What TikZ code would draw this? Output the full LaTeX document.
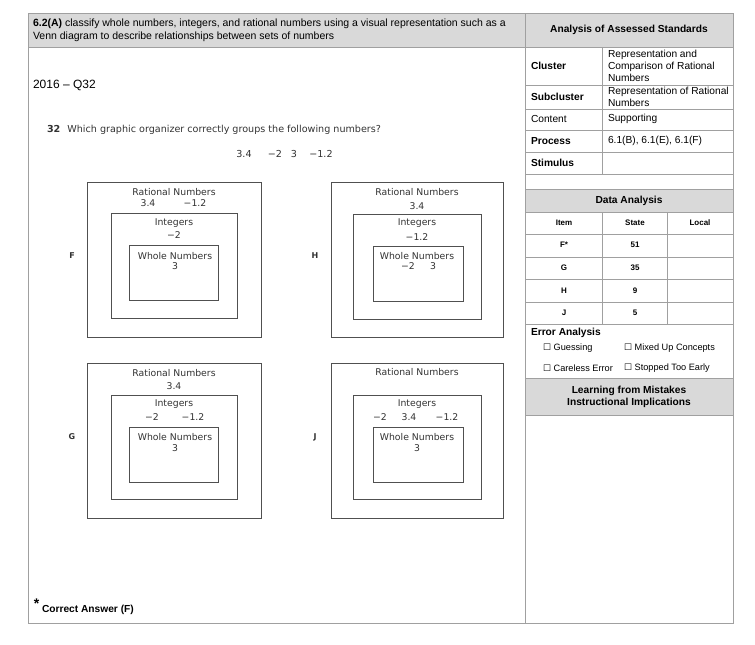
\documentclass[tikz,border=0pt]{standalone}
\usepackage{fontspec}
\setmainfont{Liberation Sans}
\newfontfamily\vd{DejaVu Sans}
\definecolor{hdr}{RGB}{217,217,217}
\definecolor{gridc}{RGB}{160,160,160}
\definecolor{vline}{RGB}{80,80,80}
\definecolor{vtext}{RGB}{50,50,50}
\begin{document}
\begin{tikzpicture}[x=1pt,y=-1pt,
 every node/.style={inner sep=0pt, outer sep=0pt},
 gl/.style={draw=gridc, line width=1pt},
 tt/.style={font=\fontsize{10.2}{12}\selectfont, align=left},
 tb/.style={font=\bfseries\fontsize{10.2}{12}\selectfont, align=center},
 sm/.style={font=\bfseries\fontsize{8}{10}\selectfont},
 ck/.style={font=\fontsize{9.2}{11}\selectfont},
 vb/.style={draw=vline, line width=0.9pt},
 vt/.style={font=\vd\fontsize{9.3}{11}\selectfont, text=vtext},
 qn/.style={font=\vd\fontsize{9.6}{11}\selectfont, text=vtext},
 lab/.style={font=\vd\bfseries\fontsize{8}{10}\selectfont, text=vtext}
]
\useasboundingbox (0,0) rectangle (755,645);
% ---------- frames
\fill[hdr] (28,13) rectangle (733,47);
\fill[hdr] (525,189) rectangle (733,212);
\fill[hdr] (525,378) rectangle (733,415);
\draw[gl] (28,13) rectangle (733,623);
\draw[gl] (525,13) -- (525,623);
\foreach \yy in {47,85,109,130,152,174,189,212,234,257,279,302,324,378,415}
  \draw[gl] (525,\yy) -- (733,\yy);
\draw[gl] (28,47) -- (525,47);
\draw[gl] (602,47) -- (602,174);
\draw[gl] (602,212) -- (602,324);
\draw[gl] (667,212) -- (667,324);
% ---------- left header
\node[font=\fontsize{10.5}{12.5}\selectfont, align=left, anchor=west] (std) at (33,30.5) {\textbf{6.2(A)} classify whole numbers, integers, and rational numbers using a visual representation such as a\\Venn diagram to describe relationships between sets of numbers};
\node[font=\fontsize{12}{14}\selectfont, anchor=west] (year) at (33,85) {2016 -- Q32};
\node[qn, anchor=west] (q) at (47,130) {\textbf{32}\hspace{7pt}Which graphic organizer correctly groups the following numbers?};
\node[qn] (n1) at (244,154) {3.4};
\node[qn] (n2) at (275,154) {−2};
\node[qn] (n3) at (294,154) {3};
\node[qn] (n4) at (321,154) {−1.2};
% ---------- F
\draw[vb] (87,182) rectangle (261,337);
\draw[vb] (111,213) rectangle (237,318);
\draw[vb] (129,245) rectangle (218,300);
\node[lab] (lF) at (72,256) {F};
\node[vt] (fR) at (174,192) {Rational Numbers};
\node[vt] (fR1) at (148,203) {3.4};
\node[vt] (fR2) at (195,203) {−1.2};
\node[vt] (fI) at (174,223) {Integers};
\node[vt] (fI1) at (174,235) {−2};
\node[vt] (fW) at (175,256) {Whole Numbers};
\node[vt] (fW1) at (175,266) {3};
% ---------- H
\draw[vb] (331,182) rectangle (503,337);
\draw[vb] (353,214) rectangle (481,319);
\draw[vb] (373,246) rectangle (463,301);
\node[lab] (lH) at (315,256) {H};
\node[vt] (hR) at (417,192) {Rational Numbers};
\node[vt] (hR1) at (417,206) {3.4};
\node[vt] (hI) at (417,223) {Integers};
\node[vt] (hI1) at (417,237) {−1.2};
\node[vt] (hW) at (417,256) {Whole Numbers};
\node[vt] (hW1) at (408,266) {−2};
\node[vt] (hW2) at (433,266) {3};
% ---------- G
\draw[vb] (87,363) rectangle (261,518);
\draw[vb] (111,395) rectangle (237,499);
\draw[vb] (129,427) rectangle (218,482);
\node[lab] (lG) at (72,437) {G};
\node[vt] (gR) at (174,373) {Rational Numbers};
\node[vt] (gR1) at (174,386) {3.4};
\node[vt] (gI) at (174,404) {Integers};
\node[vt] (gI1) at (152,417) {−2};
\node[vt] (gI2) at (193,417) {−1.2};
\node[vt] (gW) at (175,437) {Whole Numbers};
\node[vt] (gW1) at (175,448) {3};
% ---------- J
\draw[vb] (331,363) rectangle (503,518);
\draw[vb] (353,395) rectangle (481,499);
\draw[vb] (373,427) rectangle (463,482);
\node[lab] (lJ) at (315,437) {J};
\node[vt] (jR) at (417,372) {Rational Numbers};
\node[vt] (jI) at (417,404) {Integers};
\node[vt] (jI1) at (380,417) {−2};
\node[vt] (jI2) at (409,417) {3.4};
\node[vt] (jI3) at (447,417) {−1.2};
\node[vt] (jW) at (417,437) {Whole Numbers};
\node[vt] (jW1) at (417,448) {3};
% ---------- correct answer
\node[font=\bfseries\fontsize{14}{14}\selectfont, anchor=west] (star) at (34,604) {*};
\node[font=\bfseries\fontsize{10.2}{12}\selectfont, anchor=west] (ans) at (42,610) {Correct Answer (F)};
% ---------- right panel
\node[tb] (aas) at (629,30) {Analysis of Assessed Standards};
\node[tb, anchor=west] (cl) at (531,66) {Cluster};
\node[tt, anchor=west] (clv) at (608,66) {Representation and\\Comparison of Rational\\Numbers};
\node[tb, anchor=west] (sc) at (531,97) {Subcluster};
\node[tt, anchor=west] (scv) at (608,97) {Representation of Rational\\Numbers};
\node[tt, anchor=west] (co) at (531,119) {Content};
\node[tt, anchor=west] (cov) at (608,119) {Supporting};
\node[tb, anchor=west] (pr) at (531,141) {Process};
\node[tt, anchor=west] (prv) at (608,141) {6.1(B), 6.1(E), 6.1(F)};
\node[tb, anchor=west] (st) at (531,163) {Stimulus};
\node[tb] (da) at (629,201) {Data Analysis};
\node[sm] (hi) at (564,223) {Item};
\node[sm] (hs) at (635,223) {State};
\node[sm] (hl) at (700,223) {Local};
\node[sm] (r1) at (564,245) {F*};
\node[sm] (r1s) at (635,245) {51};
\node[sm] (r2) at (564,268) {G};
\node[sm] (r2s) at (635,268) {35};
\node[sm] (r3) at (564,291) {H};
\node[sm] (r3s) at (635,291) {9};
\node[sm] (r4) at (564,313) {J};
\node[sm] (r4s) at (635,313) {5};
\node[tb, anchor=west] (ea) at (531,333) {Error Analysis};
\node[ck, anchor=west] (c1) at (543,348) {{\vd\fontsize{9}{9}\selectfont ☐} Guessing};
\node[ck, anchor=west] (c2) at (624,348) {{\vd\fontsize{9}{9}\selectfont ☐} Mixed Up Concepts};
\node[ck, anchor=west] (c3) at (543,368) {{\vd\fontsize{9}{9}\selectfont ☐} Careless Error};
\node[ck, anchor=west] (c4) at (624,368) {{\vd\fontsize{9}{9}\selectfont ☐} Stopped Too Early};
\node[tb] (lm) at (629,397) {Learning from Mistakes\\Instructional Implications};
\end{tikzpicture}
\end{document}
